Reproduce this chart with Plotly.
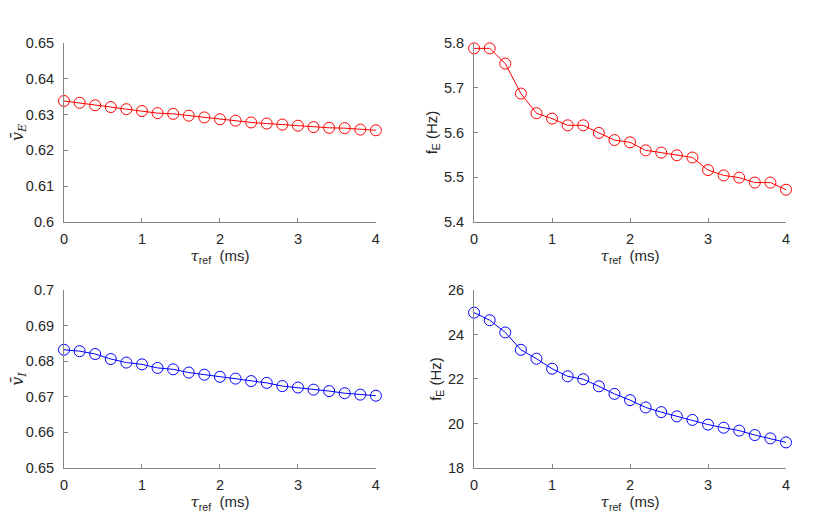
import plotly.graph_objects as go
from plotly.subplots import make_subplots

tau_ref = [0.0, 0.2, 0.4, 0.6, 0.8, 1.0, 1.2, 1.4, 1.6, 1.8, 2.0,
           2.2, 2.4, 2.6, 2.8, 3.0, 3.2, 3.4, 3.6, 3.8, 4.0]

v_E = [0.6338, 0.6333, 0.6326, 0.6321, 0.6315, 0.6310, 0.6304, 0.6302, 0.6297, 0.6292, 0.6287,
       0.6283, 0.6278, 0.6275, 0.6272, 0.6269, 0.6265, 0.6263, 0.6262, 0.6258, 0.6256]

f_E = [5.788, 5.788, 5.754, 5.687, 5.643, 5.631, 5.616, 5.616, 5.599, 5.583, 5.578,
       5.560, 5.555, 5.549, 5.544, 5.516, 5.504, 5.499, 5.488, 5.488, 5.472]

v_I = [0.6832, 0.6828, 0.6820, 0.6806, 0.6796, 0.6791, 0.6781, 0.6777, 0.6768, 0.6762, 0.6756,
       0.6751, 0.6744, 0.6739, 0.6730, 0.6726, 0.6720, 0.6716, 0.6710, 0.6706, 0.6703]

f_I = [24.98, 24.64, 24.09, 23.31, 22.91, 22.46, 22.12, 21.99, 21.67, 21.33, 21.05,
       20.72, 20.51, 20.32, 20.16, 19.95, 19.81, 19.68, 19.48, 19.33, 19.15]

vE_ticks = [0.6, 0.61, 0.62, 0.63, 0.64, 0.65]
fE_ticks = [5.4, 5.5, 5.6, 5.7, 5.8]
vI_ticks = [0.65, 0.66, 0.67, 0.68, 0.69, 0.7]
fI_ticks = [18, 20, 22, 24, 26]

RED = "#ff0000"
BLUE = "#0000ff"
AXIS = "#858585"
TXT = "#262626"
MATH = "font-family:DejaVu Serif;font-style:italic"

fig = make_subplots(rows=2, cols=2)

panels = [
    (1, 1, v_E, RED),
    (1, 2, f_E, RED),
    (2, 1, v_I, BLUE),
    (2, 2, f_I, BLUE),
]
for r, c, y, col in panels:
    fig.add_trace(
        go.Scatter(
            x=tau_ref, y=y, mode="lines+markers",
            line=dict(color=col, width=1),
            marker=dict(symbol="circle-open", size=11, color=col, line=dict(width=1, color=col)),
            showlegend=False, cliponaxis=False,
        ),
        row=r, col=c,
    )

xlabel = f'<span style="{MATH}">τ</span><sub>ref</sub>  (ms)'
common_x = dict(
    range=[0, 4], tickvals=[0, 1, 2, 3, 4], showline=True, linecolor=AXIS, linewidth=1,
    ticks="inside", ticklen=4, tickcolor=AXIS, showgrid=False, zeroline=False, automargin=False,
    ticklabelstandoff=4,
    tickfont=dict(size=14.5, color=TXT), title=dict(text=xlabel, font=dict(size=15, color=TXT), standoff=2),
)
common_y = dict(
    showline=True, linecolor=AXIS, linewidth=1, ticks="inside", ticklen=4, tickcolor=AXIS,
    showgrid=False, zeroline=False, automargin=False, ticklabelstandoff=6,
    tickfont=dict(size=14.5, color=TXT),
)

dom_left = [0.0, 0.432]
dom_right = [0.568, 1.0]
dom_top = [0.579, 1.0]
dom_bot = [0.0, 0.419]


def ylab(sym):
    return f'<span style="{MATH}">v̄<sub>{sym}</sub></span>'


fig.update_layout(
    xaxis=dict(common_x, domain=dom_left),
    xaxis2=dict(common_x, domain=dom_right),
    xaxis3=dict(common_x, domain=dom_left),
    xaxis4=dict(common_x, domain=dom_right),
    yaxis=dict(common_y, domain=dom_top, range=[0.6, 0.65],
               tickvals=vE_ticks, ticktext=[f"{v:g}" for v in vE_ticks],
               title=dict(text=ylab("E"), font=dict(size=16, color=TXT), standoff=6)),
    yaxis2=dict(common_y, domain=dom_top, range=[5.4, 5.8],
                tickvals=fE_ticks, ticktext=[f"{v:g}" for v in fE_ticks],
                title=dict(text="f<sub>E</sub> (Hz)", font=dict(size=15, color=TXT), standoff=2)),
    yaxis3=dict(common_y, domain=dom_bot, range=[0.65, 0.70],
                tickvals=vI_ticks, ticktext=[f"{v:g}" for v in vI_ticks],
                title=dict(text=ylab("I"), font=dict(size=16, color=TXT), standoff=6)),
    yaxis4=dict(common_y, domain=dom_bot, range=[18, 26],
                tickvals=fI_ticks, ticktext=[f"{v:g}" for v in fI_ticks],
                title=dict(text="f<sub>E</sub> (Hz)", font=dict(size=15, color=TXT), standoff=2)),
    width=817, height=529,
    margin=dict(l=56, r=39, t=35, b=69),
    paper_bgcolor="white", plot_bgcolor="white",
    font=dict(family="Liberation Sans, Arial, sans-serif", color=TXT),
)

fig.write_html("out.html")
